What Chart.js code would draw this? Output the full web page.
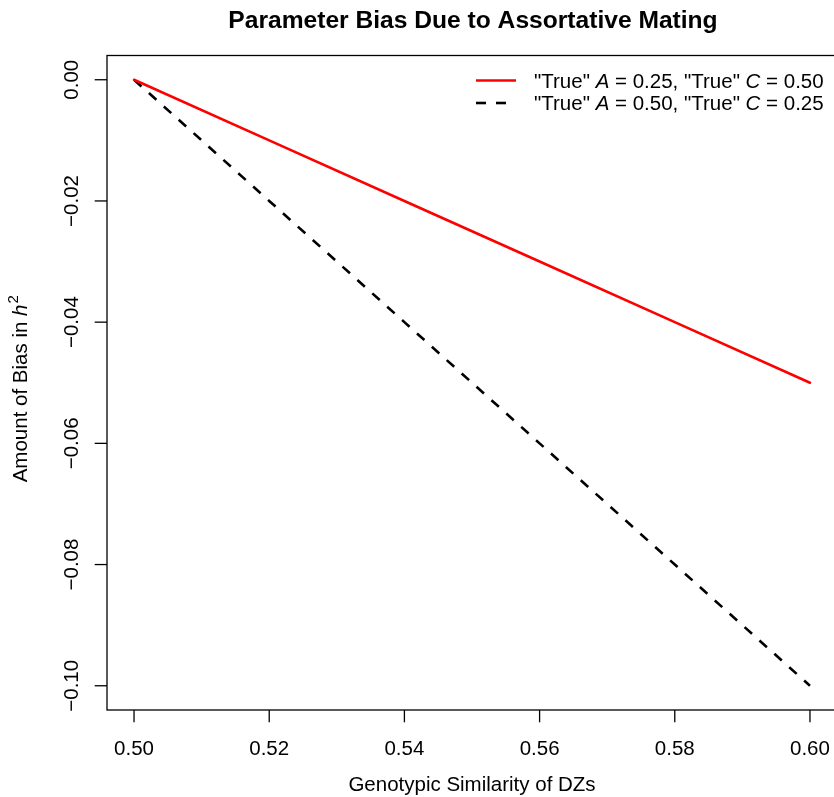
<!DOCTYPE html>
<html>
<head>
<meta charset="utf-8">
<script src="https://cdn.jsdelivr.net/npm/chart.js@4.4.1/dist/chart.umd.min.js"></script>
<style>
html, body { margin: 0; padding: 0; overflow: hidden; background: #fff; }
canvas { display: block; }
</style>
</head>
<body>
<canvas id="c" width="840" height="797"></canvas>
<script>
// ---- data ----
const genotypicSimilarity = [0.50, 0.52, 0.54, 0.56, 0.58, 0.60];
const biasTrueA25C50 = [0.000, -0.010, -0.020, -0.030, -0.040, -0.050];
const biasTrueA50C25 = [0.000, -0.020, -0.040, -0.060, -0.080, -0.100];

const xTickValues = [0.50, 0.52, 0.54, 0.56, 0.58, 0.60];
const xTickLabels = ["0.50", "0.52", "0.54", "0.56", "0.58", "0.60"];
const yTickValues = [0.00, -0.02, -0.04, -0.06, -0.08, -0.10];
const yTickLabels = ["0.00", "\u22120.02", "\u22120.04", "\u22120.06", "\u22120.08", "\u22120.10"];

const chartTitle = "Parameter Bias Due to Assortative Mating";
const xAxisTitle = "Genotypic Similarity of DZs";
const yAxisTitle = ["Amount of Bias in ", "h", "2"];
// legend entries: [normal, italic, normal, italic, normal]
const legendEntries = [
  ["\"True\" ", "A", " = 0.25, \"True\" ", "C", " = 0.50"],
  ["\"True\" ", "A", " = 0.50, \"True\" ", "C", " = 0.25"]
];

const FONT = "'Liberation Sans', Arial, Helvetica, sans-serif";

function pts(xs, ys) { return xs.map((x, i) => ({ x: x, y: ys[i] })); }

const rAxesPlugin = {
  id: 'rAxes',
  afterDraw(chart) {
    const ctx = chart.ctx;
    const a = chart.chartArea;
    const xs = chart.scales.x, ys = chart.scales.y;
    ctx.save();
    ctx.strokeStyle = '#000';
    ctx.fillStyle = '#000';
    ctx.lineWidth = 1.3;
    // box
    ctx.strokeRect(a.left, a.top, a.right - a.left, a.bottom - a.top);
    // x ticks
    ctx.font = "20.5px " + FONT;
    ctx.textAlign = 'center';
    ctx.textBaseline = 'alphabetic';
    xTickValues.forEach((v, i) => {
      const px = xs.getPixelForValue(v);
      ctx.beginPath();
      ctx.moveTo(px, a.bottom);
      ctx.lineTo(px, a.bottom + 12.3);
      ctx.stroke();
      ctx.fillText(xTickLabels[i], px, 755);
    });
    // y ticks
    yTickValues.forEach((v, i) => {
      const py = ys.getPixelForValue(v);
      ctx.beginPath();
      ctx.moveTo(a.left, py);
      ctx.lineTo(a.left - 12.3, py);
      ctx.stroke();
      ctx.save();
      ctx.translate(78, py);
      ctx.rotate(-Math.PI / 2);
      ctx.fillText(yTickLabels[i], 0, 0);
      ctx.restore();
    });
    // x axis title
    ctx.fillText(xAxisTitle, (a.left + a.right) / 2, 791);
    // y axis title (rotated, with italic h and superscript 2)
    ctx.save();
    ctx.translate(27, (a.top + a.bottom) / 2 + 6);
    ctx.rotate(-Math.PI / 2);
    ctx.textAlign = 'left';
    const fN = "20.5px " + FONT, fI = "italic 20.5px " + FONT, fS = "15px " + FONT;
    ctx.font = fN; const w0 = ctx.measureText(yAxisTitle[0]).width;
    ctx.font = fI; const w1 = ctx.measureText(yAxisTitle[1]).width;
    ctx.font = fS; const w2 = ctx.measureText(yAxisTitle[2]).width;
    let sx = -(w0 + w1 + w2 + 1) / 2;
    ctx.font = fN; ctx.fillText(yAxisTitle[0], sx, 0); sx += w0;
    ctx.font = fI; ctx.fillText(yAxisTitle[1], sx, 0); sx += w1 + 1;
    ctx.font = fS; ctx.fillText(yAxisTitle[2], sx, -9);
    ctx.restore();
    // title
    ctx.font = "bold 24.6px " + FONT;
    ctx.textAlign = 'center';
    ctx.fillText(chartTitle, (a.left + a.right) / 2 + 1, 28);
    // legend
    const rowsY = [80.5, 103];
    chart.data.datasets.forEach((ds, i) => {
      const y = rowsY[i];
      ctx.save();
      ctx.strokeStyle = ds.borderColor;
      ctx.lineWidth = ds.borderWidth;
      ctx.setLineDash(ds.borderDash || []);
      ctx.lineCap = 'butt';
      ctx.beginPath();
      ctx.moveTo(476, y);
      ctx.lineTo(516, y);
      ctx.stroke();
      ctx.restore();
      let tx = 534;
      ctx.textAlign = 'left';
      legendEntries[i].forEach((part, k) => {
        ctx.font = (k % 2 === 1 ? "italic " : "") + "20.5px " + FONT;
        ctx.fillText(part, tx, y + 7);
        tx += ctx.measureText(part).width;
      });
    });
    ctx.restore();
  }
};

new Chart(document.getElementById('c'), {
  type: 'line',
  data: {
    datasets: [
      {
        label: legendEntries[0].join(''),
        data: pts(genotypicSimilarity, biasTrueA25C50),
        borderColor: '#ff0000',
        borderWidth: 2.6,
        borderCapStyle: 'round',
        pointRadius: 0,
        tension: 0,
        fill: false
      },
      {
        label: legendEntries[1].join(''),
        data: pts(genotypicSimilarity, biasTrueA50C25),
        borderColor: '#000000',
        borderWidth: 2.6,
        borderDash: [10, 10],
        borderCapStyle: 'butt',
        pointRadius: 0,
        tension: 0,
        fill: false
      }
    ]
  },
  options: {
    responsive: false,
    animation: false,
    devicePixelRatio: 1,
    layout: { padding: { left: 107, top: 55.5, right: 3, bottom: 87 } },
    plugins: { legend: { display: false }, title: { display: false }, tooltip: { enabled: false } },
    scales: {
      x: { type: 'linear', min: 0.496, max: 0.604, display: false },
      y: { type: 'linear', min: -0.104, max: 0.004, display: false }
    }
  },
  plugins: [rAxesPlugin]
});
</script>
</body>
</html>
